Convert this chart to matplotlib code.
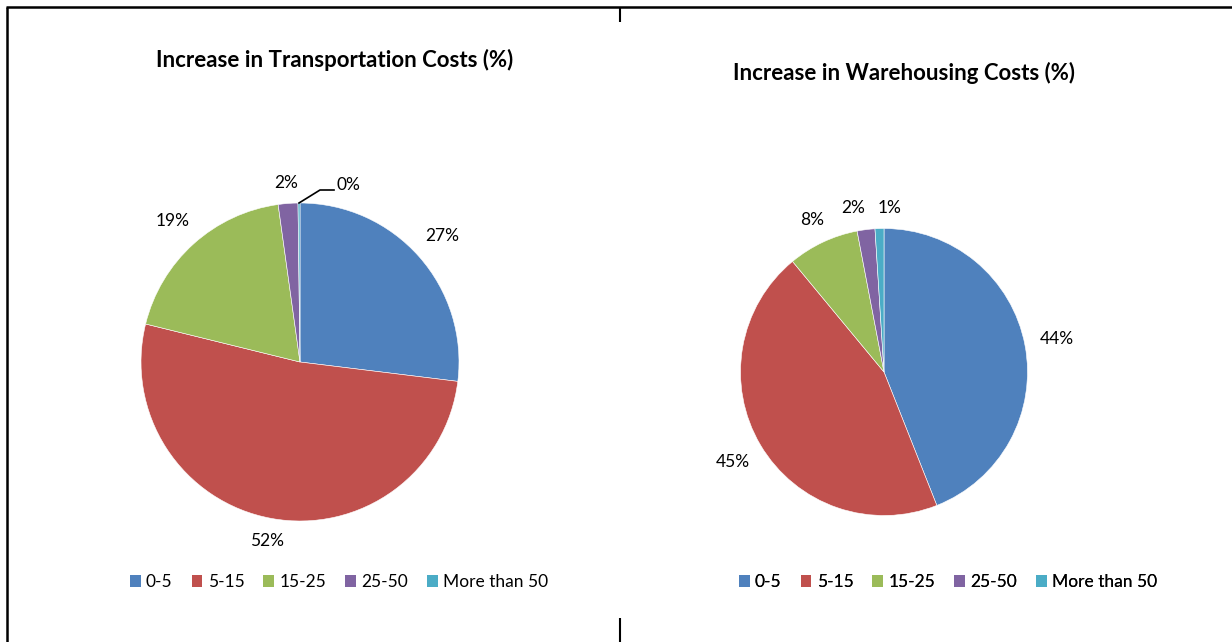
import numpy as np
import matplotlib
matplotlib.use('Agg')
import matplotlib.pyplot as plt

# Data
categories = ['0-5', '5-15', '15-25', '25-50', 'More than 50']
transport_pct = [27, 52, 19, 2, 0.2]
warehouse_pct = [44, 45, 8, 2, 1]
titles = ['Increase in Transportation Costs (%)', 'Increase in Warehousing Costs (%)']
colors = ['#4F81BD', '#C0504D', '#9BBB59', '#8064A2', '#4BACC6']

FONT = 'Lato'
LABEL_SIZE = 12.5
TITLE_SIZE = 16


def draw_labels(ax, wedges, values, center, radius):
    placed = []
    for w, v in zip(wedges, values):
        mid = np.deg2rad((w.theta1 + w.theta2) / 2)
        c, s = np.cos(mid), np.sin(mid)
        text = f"{v:.0f}%"
        if v < 0.5:
            # tiny slice: label pulled aside with a leader line
            ex, ey = center[0] + radius * c, center[1] + radius * s
            ax.plot([ex, ex + 21, ex + 35], [ey, ey + 13, ey + 13], color='black', lw=1.2)
            ax.text(ex + 37, ey + 18, text, ha='left', va='center',
                    fontsize=LABEL_SIZE, family=FONT)
            continue
        half_w = 6 * len(text)
        half_h = 6
        d = radius + 14 + abs(c) * half_w + abs(s) * half_h
        placed.append([center[0] + d * c, center[1] + d * s, half_w, text])

    # push apart neighbours that would overlap
    for i in range(len(placed) - 1):
        a, b = placed[i], placed[i + 1]
        need = a[2] + b[2] + 12
        if abs(a[1] - b[1]) < 18 and abs(a[0] - b[0]) < need:
            shift = (need - abs(a[0] - b[0])) / 2
            if a[0] < b[0]:
                a[0] -= shift
                b[0] += shift
            else:
                a[0] += shift
                b[0] -= shift

    for x, y, _, text in placed:
        ax.text(x, y, text, ha='center', va='center', fontsize=LABEL_SIZE, family=FONT)


fig = plt.figure(figsize=(12.32, 6.42), dpi=100)
ax = fig.add_axes([0, 0, 1, 1])

charts = [
    (transport_pct, (300, 280), 159, (335, 582), (339, 60)),
    (warehouse_pct, (884, 270), 143.5, (904, 569), (948, 60)),
]

for (values, center, radius, title_xy, legend_xy), title in zip(charts, titles):
    wedges, _ = ax.pie(values, colors=colors, startangle=90, counterclock=False,
                       center=center, radius=radius,
                       wedgeprops=dict(edgecolor='white', linewidth=0.4))
    draw_labels(ax, wedges, values, center, radius)
    ax.text(title_xy[0], title_xy[1], title, ha='center', va='center',
            fontsize=TITLE_SIZE, fontweight='bold', family=FONT)
    leg = ax.legend(wedges, categories, ncol=5, loc='center',
                    bbox_to_anchor=legend_xy, bbox_transform=ax.transData,
                    frameon=False, handlelength=0.62, handleheight=0.62,
                    handletextpad=0.3, columnspacing=1.1,
                    prop={'family': FONT, 'size': LABEL_SIZE})
    for h in leg.legend_handles:
        h.set_edgecolor('none')
    ax.add_artist(leg)

# chart frame lines
ax.plot([7, 7], [0, 635], color='black', lw=1.8, solid_capstyle='butt')
ax.plot([6, 1232], [635, 635], color='black', lw=1.8, solid_capstyle='butt')
ax.plot([620, 620], [635, 620], color='black', lw=1.5, solid_capstyle='butt')
ax.plot([620, 620], [24, 0], color='black', lw=1.5, solid_capstyle='butt')

ax.set_xlim(0, 1232)
ax.set_ylim(0, 642)
ax.set_aspect('equal')
ax.axis('off')

fig.savefig('out.png', dpi=100)
